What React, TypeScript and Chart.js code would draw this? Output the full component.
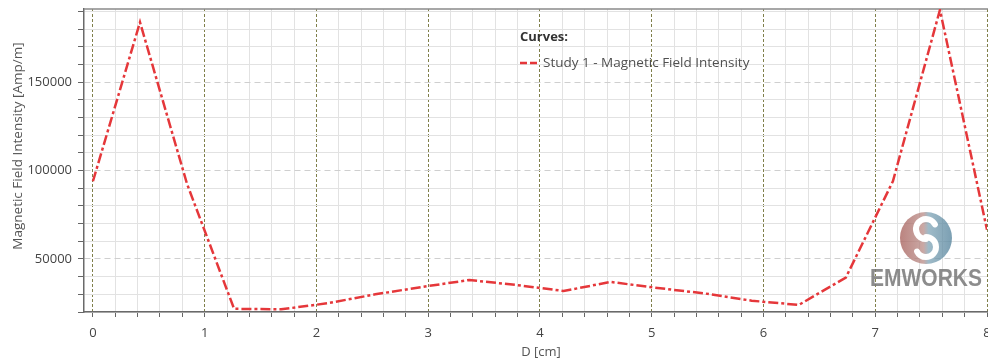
import React, { useEffect, useRef } from 'react';
import { Chart, registerables } from 'chart.js';

Chart.register(...registerables);

// ---- data ----
const D_CM = [0, 0.421, 0.842, 1.263, 1.684, 2.105, 2.526, 2.947, 3.368, 3.789, 4.211, 4.632, 5.053, 5.474, 5.895, 6.316, 6.737, 7.158, 7.579, 8.0];
const H_FIELD = [94000, 184000, 92500, 21800, 21500, 25000, 30000, 34200, 38100, 35300, 31900, 37000, 33600, 30500, 26400, 24000, 39500, 94000, 191000, 66500];
const SERIES_LABEL = 'Study 1 - Magnetic Field Intensity';
const LEGEND_TITLE = 'Curves:';
const X_TITLE = 'D [cm]';
const Y_TITLE = 'Magnetic Field Intensity [Amp/m]';
const X_TICK_LABELS = ['0', '1', '2', '3', '4', '5', '6', '7', '8'];
const Y_TICK_LABELS = ['50000', '100000', '150000'];
const X_MIN = -0.08;
const X_MAX = 8;
const X_MINOR_STEP = 0.2;
const Y_MIN = 20000;
const Y_MAX = 191500;
const Y_MINOR_STEP = 10000;
const Y_MAJOR_STEP = 50000;

const FONT = '"Open Sans", "DejaVu Sans", sans-serif';
const RED = '#e5373a';

const isIntX = (v: number) => Math.abs(v - Math.round(v)) < 1e-6;
const isMajorY = (v: number) => Math.abs(v / Y_MAJOR_STEP - Math.round(v / Y_MAJOR_STEP)) < 1e-6;

const decorPlugin = {
  id: 'decor',
  beforeDatasetsDraw(chart: any) {
    const { ctx, chartArea } = chart;
    ctx.save();
    // top border
    ctx.strokeStyle = '#8a8a8a';
    ctx.lineWidth = 1.5;
    ctx.beginPath();
    ctx.moveTo(chartArea.left, chartArea.top);
    ctx.lineTo(chartArea.right + 2, chartArea.top);
    ctx.stroke();

    // watermark logo
    const cx = 926, cy = 238, r = 26;
    ctx.globalAlpha = 0.75;
    const g = ctx.createLinearGradient(cx - r, cy, cx + r, cy);
    g.addColorStop(0, '#a45a55');
    g.addColorStop(0.45, '#b88b86');
    g.addColorStop(0.55, '#7ea3b5');
    g.addColorStop(1, '#4f7f99');
    ctx.fillStyle = g;
    ctx.beginPath();
    ctx.arc(cx, cy, r, 0, Math.PI * 2);
    ctx.fill();
    ctx.globalAlpha = 1;
    ctx.strokeStyle = '#ffffff';
    ctx.lineWidth = 6;
    ctx.lineCap = 'round';
    ctx.beginPath();
    ctx.arc(cx, cy - 9, 10, -0.15 * Math.PI, 0.5 * Math.PI, true);
    ctx.stroke();
    ctx.beginPath();
    ctx.arc(cx, cy + 9, 10, -0.5 * Math.PI, 0.85 * Math.PI, false);
    ctx.stroke();
    ctx.lineCap = 'butt';
    ctx.fillStyle = 'rgba(120,120,120,0.85)';
    ctx.font = `bold 23px "Liberation Sans", Arial, sans-serif`;
    ctx.textAlign = 'left';
    ctx.textBaseline = 'alphabetic';
    ctx.fillText('EMWORKS', 870, 286, 112);
    ctx.restore();
  },
  afterDraw(chart: any) {
    const { ctx } = chart;
    ctx.save();
    // axis titles
    ctx.fillStyle = '#555555';
    ctx.font = `13.5px ${FONT}`;
    ctx.textAlign = 'center';
    ctx.textBaseline = 'middle';
    ctx.translate(18, 146);
    ctx.rotate(-Math.PI / 2);
    ctx.fillText(Y_TITLE, 0, 0);
    ctx.setTransform(1, 0, 0, 1, 0, 0);
    ctx.font = `13px ${FONT}`;
    ctx.fillText(X_TITLE, 541, 352);

    // legend
    ctx.textAlign = 'left';
    ctx.fillStyle = '#333333';
    ctx.font = `bold 13px ${FONT}`;
    ctx.fillText(LEGEND_TITLE, 520, 37);
    ctx.strokeStyle = RED;
    ctx.lineWidth = 2.5;
    ctx.setLineDash([7, 3]);
    ctx.beginPath();
    ctx.moveTo(520, 63);
    ctx.lineTo(538, 63);
    ctx.stroke();
    ctx.setLineDash([]);
    ctx.fillStyle = '#505050';
    ctx.font = `13.5px ${FONT}`;
    ctx.fillText(SERIES_LABEL, 543, 63);
    ctx.restore();
  },
};

export default function App() {
  const canvasRef = useRef<HTMLCanvasElement | null>(null);

  useEffect(() => {
    document.body.style.margin = '0';
    const canvas = canvasRef.current;
    if (!canvas) return;

    const xTicks: number[] = [];
    for (let i = 0; i <= Math.round(X_MAX / X_MINOR_STEP); i++) xTicks.push(Math.round(i * X_MINOR_STEP * 1000) / 1000);
    const yTicks: number[] = [];
    for (let v = Y_MIN; v <= Y_MAX; v += Y_MINOR_STEP) yTicks.push(v);

    const chart = new Chart(canvas, {
      type: 'line',
      data: {
        datasets: [
          {
            label: SERIES_LABEL,
            data: D_CM.map((x, i) => ({ x, y: H_FIELD[i] })),
            borderColor: RED,
            borderWidth: 2.5,
            borderDash: [10, 3, 3, 3],
            pointRadius: 0,
            tension: 0,
            fill: false,
          },
        ],
      },
      options: {
        responsive: false,
        animation: false,
        devicePixelRatio: 1,
        layout: { padding: { left: 0, right: 1, top: 9, bottom: 0 } },
        plugins: { legend: { display: false }, tooltip: { enabled: false }, title: { display: false } },
        scales: {
          x: {
            type: 'linear',
            min: X_MIN,
            max: X_MAX,
            afterBuildTicks: (scale: any) => {
              scale.ticks = xTicks.map((v) => ({ value: v }));
            },
            afterFit: (scale: any) => {
              scale.height = 50;
              scale.paddingLeft = 0;
              scale.paddingRight = 0;
            },
            ticks: {
              autoSkip: false,
              maxRotation: 0,
              minRotation: 0,
              padding: 8,
              color: '#444444',
              font: { family: FONT, size: 13 },
              callback: (v: any) => (isIntX(Number(v)) ? X_TICK_LABELS[Math.round(Number(v))] : ''),
            },
            grid: {
              color: (c: any) => (c.tick && isIntX(c.tick.value) ? '#7f7f4a' : '#e2e2e2'),
              borderDash: (c: any) => (c.tick && isIntX(c.tick.value) ? [3, 2] : []),
              lineWidth: 1,
              tickLength: 5,
              tickColor: '#666666',
              tickBorderDash: [],
            } as any,
            border: {
              display: true,
              color: '#6a6a6a',
              width: 1.5,
              dash: (c: any) => (c.tick && isIntX(c.tick.value) ? [3, 2] : []),
            } as any,
          },
          y: {
            type: 'linear',
            min: Y_MIN,
            max: Y_MAX,
            afterBuildTicks: (scale: any) => {
              scale.ticks = yTicks.map((v) => ({ value: v }));
            },
            afterFit: (scale: any) => {
              scale.width = 84;
              scale.paddingTop = 0;
              scale.paddingBottom = 0;
            },
            ticks: {
              autoSkip: false,
              padding: 6,
              color: '#444444',
              font: { family: FONT, size: 13 },
              callback: (v: any) => {
                const n = Number(v);
                if (!isMajorY(n)) return '';
                const idx = Math.round(n / Y_MAJOR_STEP) - 1;
                return Y_TICK_LABELS[idx] ?? '';
              },
            },
            grid: {
              color: (c: any) => (c.tick && isMajorY(c.tick.value) ? '#cfcfcf' : '#e2e2e2'),
              borderDash: (c: any) => (c.tick && isMajorY(c.tick.value) ? [6, 4] : []),
              lineWidth: 1,
              tickLength: 6,
              tickColor: '#666666',
              tickBorderDash: [],
            } as any,
            border: {
              display: true,
              color: '#6a6a6a',
              width: 1.5,
              dash: (c: any) => (c.tick && isMajorY(c.tick.value) ? [6, 4] : []),
            } as any,
          },
        },
      },
      plugins: [decorPlugin],
    } as any);

    return () => chart.destroy();
  }, []);

  return (
    <div style={{ width: 988, height: 362, position: 'relative', overflow: 'hidden', background: '#ffffff' }}>
      <canvas ref={canvasRef} width={988} height={362} style={{ display: 'block' }} />
    </div>
  );
}
